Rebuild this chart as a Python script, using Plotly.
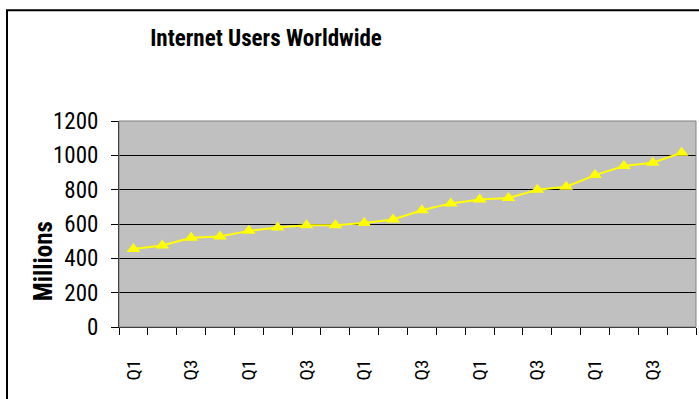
import plotly.graph_objects as go

quarters = ["Q1", "Q2", "Q3", "Q4"] * 5
years = [y for y in range(1, 6) for _ in range(4)]
users_millions = [455, 475, 520, 527, 560, 580, 592, 592, 606, 626,
                  680, 720, 742, 752, 800, 817, 885, 938, 957, 1015]
y_ticks = [0, 200, 400, 600, 800, 1000, 1200]

FONT = "Roboto Condensed, DejaVu Sans Condensed, sans-serif"

n = len(users_millions)
xpos = [i + 0.5 for i in range(n)]
label_idx = list(range(0, n, 2))

fig = go.Figure()
fig.add_trace(go.Scatter(
    x=xpos, y=users_millions, mode="lines+markers",
    line=dict(color="#FFFF00", width=2),
    marker=dict(symbol="triangle-up", size=12, color="#FFFF00"),
    hovertext=[f"Year {y} {q}" for y, q in zip(years, quarters)],
    showlegend=False,
))

fig.update_layout(
    width=699, height=399,
    margin=dict(l=119, r=3, t=121, b=72),
    paper_bgcolor="white", plot_bgcolor="#C0C0C0",
    title=dict(text="Internet Users Worldwide", x=(266 - 119) / 577, xref="paper",
               xanchor="center", y=1 - 38 / 399, yref="container", yanchor="middle",
               font=dict(family=FONT, size=23, color="black", weight="bold")),
    xaxis=dict(range=[0, n], tickvals=[xpos[i] for i in label_idx],
               ticktext=[quarters[i] for i in label_idx], tickangle=-90,
               ticks="", showgrid=False, zeroline=False,
               showline=True, linecolor="black", linewidth=1,
               ticklabelstandoff=24,
               tickfont=dict(family=FONT, size=19, color="black"),
               minor=dict(tickmode="linear", tick0=0, dtick=1, ticks="outside",
                          ticklen=7, tickcolor="black", showgrid=False)),
    yaxis=dict(range=[0, 1200], tickvals=y_ticks, ticks="outside", ticklen=7,
               tickcolor="black", showgrid=True, gridcolor="black", gridwidth=1,
               zeroline=False, showline=True, linecolor="black", linewidth=1,
               ticklabelstandoff=8,
               tickfont=dict(family=FONT, size=23, color="black")),
    annotations=[dict(text="Millions", textangle=-90, xref="paper", yref="paper",
                      x=(43 - 119) / 577, y=(326.7 - 261) / 206,
                      xanchor="center", yanchor="middle", showarrow=False,
                      font=dict(family=FONT, size=25, color="black", weight="bold"))],
    shapes=[
        dict(type="rect", xref="paper", yref="paper", x0=0, x1=1, y0=0, y1=1,
             line=dict(color="#808080", width=1), layer="above"),
        dict(type="rect", xref="paper", yref="paper",
             x0=(7 - 119) / 577, x1=(720 - 119) / 577,
             y0=(326.7 - 420) / 206, y1=(326.7 - 10) / 206,
             line=dict(color="black", width=2)),
    ],
)

fig.write_html("out.html")
